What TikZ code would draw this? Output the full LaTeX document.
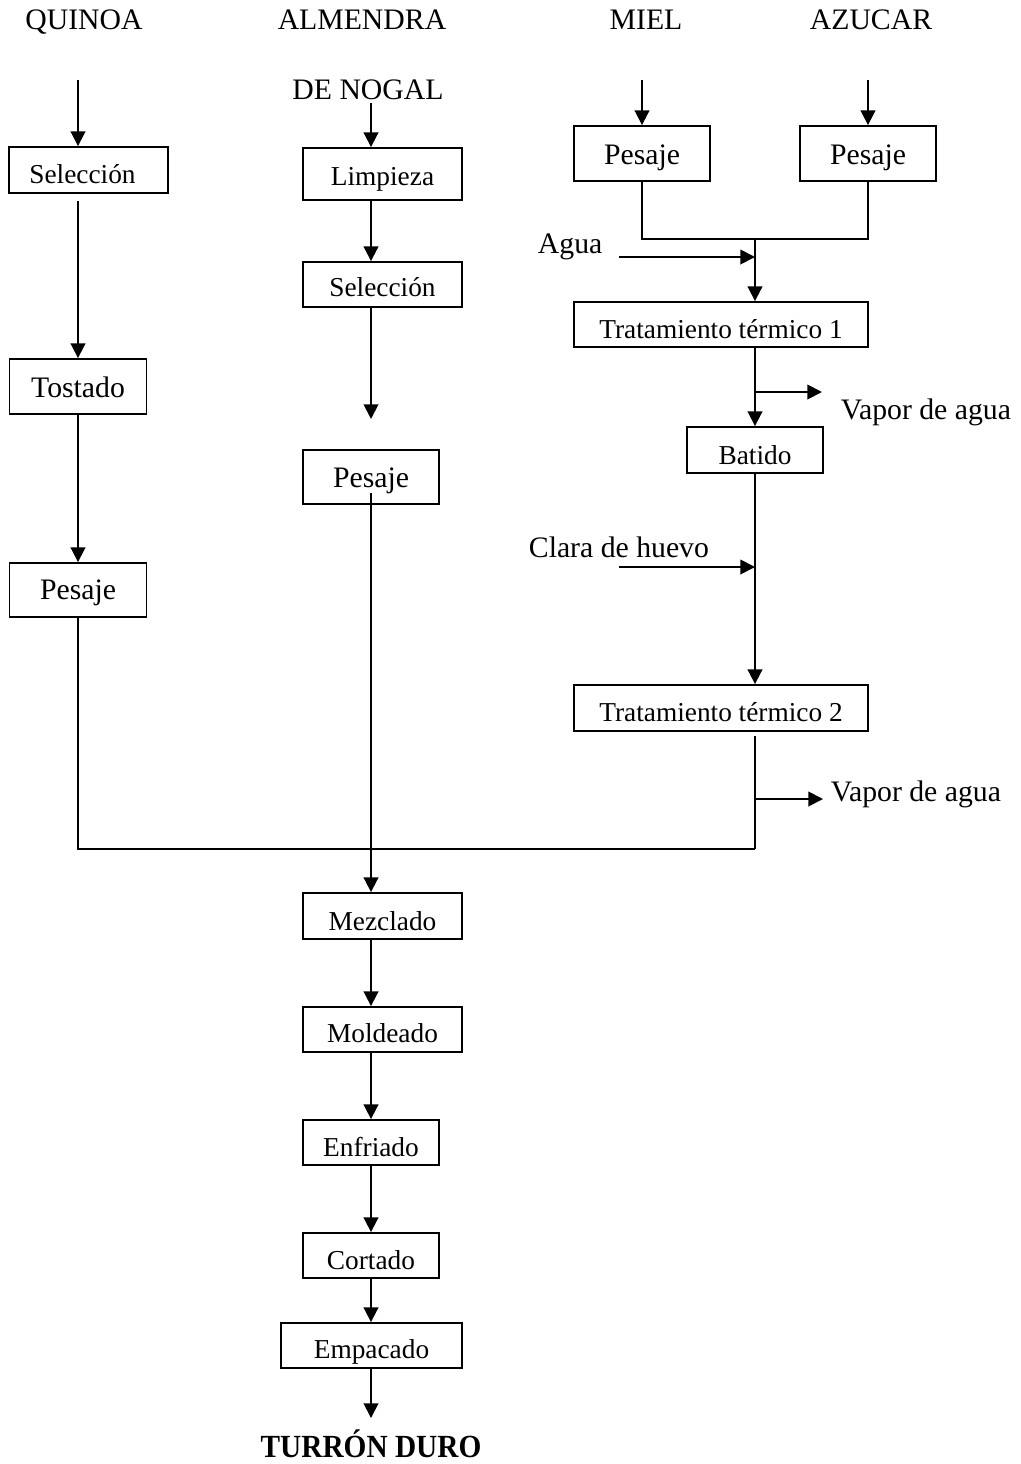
\documentclass[tikz,border=0pt]{standalone}
\usepackage{fontspec}
\setmainfont{Liberation Serif}
\usetikzlibrary{arrows.meta}
\begin{document}
\begin{tikzpicture}[x=0.75pt,y=-0.75pt,
  line width=1.4pt,
  arr/.style={-{Triangle[length=11pt,width=11pt]}},
  box/.style={draw, line width=1.4pt, inner sep=0pt, text depth=0pt, font=\fontsize{20.5}{24}\selectfont},
  big/.style={font=\fontsize{22.3}{26}\selectfont},
  lbl/.style={inner sep=0pt, font=\fontsize{22.3}{26}\selectfont},
  sz/.style 2 args={minimum width=#1*0.75pt, minimum height=#2*0.75pt},
  th/.style={text height=#1},
]
\useasboundingbox (0,0) rectangle (1021,1464);

% headers
\node[lbl, anchor=base] (hq) at (84,29) {QUINOA};
\node[lbl, anchor=base] (ha) at (362,29) {ALMENDRA};
\node[lbl, anchor=base] (hn) at (368,99) {DE NOGAL};
\node[lbl, anchor=base] (hm) at (646,29) {MIEL};
\node[lbl, anchor=base] (hz) at (871,29) {AZUCAR};

% boxes
\node[box, th=19.6pt, sz={159}{46}] (q1) at (88.5,170) {\hspace*{-9pt}Selección};
\node[box, big, th=17pt, sz={137}{55}] (q2) at (78,386.5) {Tostado};
\node[box, big, th=14.8pt, sz={137}{54}] (q3) at (78,590) {Pesaje};
\node[box, th=16.6pt, sz={159}{52}] (a1) at (382.5,174) {Limpieza};
\node[box, th=18.1pt, sz={159}{45}] (a2) at (382.5,284.5) {Selección};
\node[box, big, th=16.3pt, sz={136}{54}] (a3) at (371,477) {Pesaje};
\node[box, big, th=17pt, sz={136}{55}] (m1) at (642,153.5) {Pesaje};
\node[box, big, th=17pt, sz={136}{55}] (z1) at (868,153.5) {Pesaje};
\node[box, th=20.3pt, sz={294}{45}] (t1) at (721,324.5) {Tratamiento térmico 1};
\node[box, th=21.1pt, sz={136}{46}] (bt) at (755,450) {Batido};
\node[box, th=20.3pt, sz={294}{46}] (t2) at (721,708) {Tratamiento térmico 2};
\node[box, th=21.8pt, sz={159}{46}] (mz) at (382.5,916) {Mezclado};
\node[box, th=19.6pt, sz={159}{45}] (ml) at (382.5,1029.5) {Moldeado};
\node[box, th=20.3pt, sz={136}{45}] (en) at (371,1142.5) {Enfriado};
\node[box, th=20.3pt, sz={136}{45}] (co) at (371,1255.5) {Cortado};
\node[box, th=19.6pt, sz={181}{45}] (em) at (371.5,1345.5) {Empacado};
\node[font=\bfseries\fontsize{22}{26}\selectfont, inner sep=0pt, anchor=base] (td) at (371,1457) {\scalebox{1}[1.1]{TURRÓN DURO}};

% quinoa column
\coordinate (qin) at (78,80);
\draw[arr] (qin) -- (qin |- q1.north);
\coordinate (q1o) at (78,201);
\draw[arr] (q1o) -- (q2.north);
\draw[arr] (q2.south) -- (q3.north);
\coordinate (jq) at (78,849);
\coordinate (jr) at (755,849);
\draw (q3.south) -- (jq) -- (jr);

% almendra column
\coordinate (ain) at (371,103);
\draw[arr] (ain) -- (ain |- a1.north);
\draw[arr] (ain |- a1.south) -- (ain |- a2.north);
\coordinate (aend) at (371,419);
\draw[arr] (ain |- a2.south) -- (aend);
\coordinate (a3o) at (371,493);
\draw[arr] (a3o) -- (a3o |- mz.north);
\draw[arr] (a3o |- mz.south) -- (a3o |- ml.north);
\draw[arr] (a3o |- ml.south) -- (en.north);
\draw[arr] (en.south) -- (co.north);
\draw[arr] (co.south) -- (co.south |- em.north);
\coordinate (tend) at (371,1418);
\draw[arr] (co.south |- em.south) -- (tend);

% miel / azucar
\coordinate (min) at (642,80);
\draw[arr] (min) -- (m1.north);
\coordinate (zin) at (868,80);
\draw[arr] (zin) -- (z1.north);
\coordinate (j1) at (755,239);
\draw (m1.south) |- (j1) -| (z1.south);
\draw[arr] (j1) -- (j1 |- t1.north);
\coordinate (ag1) at (619,257);
\coordinate (ag2) at (755,257);
\draw[arr] (ag1) -- (ag2);
\node[lbl, anchor=base west] (agua) at (537,253) {Agua};
\draw[arr] (j1 |- t1.south) -- (bt.north);
\coordinate (v1a) at (755,392);
\coordinate (v1b) at (822,392);
\draw[arr] (v1a) -- (v1b);
\node[lbl, anchor=base west] (vap1) at (840,419) {Vapor de agua};
\draw[arr] (bt.south) -- (bt.south |- t2.north);
\coordinate (cl1) at (619,567);
\coordinate (cl2) at (755,567);
\draw[arr] (cl1) -- (cl2);
\node[lbl, anchor=base west] (clara) at (528,557) {Clara de huevo};
\coordinate (t2o) at (755,736);
\draw (t2o) -- (jr);
\coordinate (v2a) at (755,799);
\coordinate (v2b) at (823,799);
\draw[arr] (v2a) -- (v2b);
\node[lbl, anchor=base west] (vap2) at (830,801) {Vapor de agua};
\end{tikzpicture}
\end{document}
